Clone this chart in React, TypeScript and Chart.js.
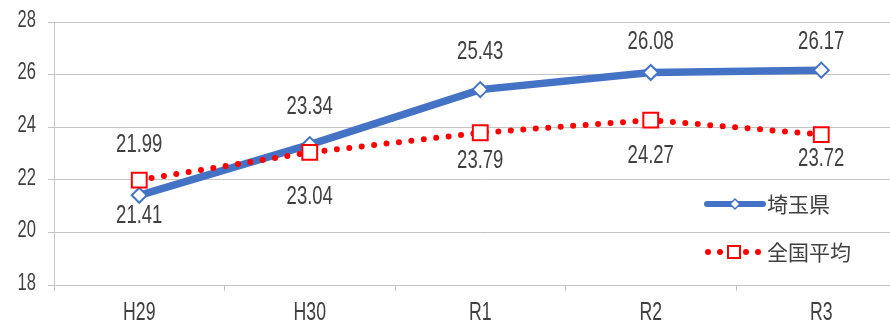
import React, { useEffect, useRef } from "react";
import { Chart, registerables } from "chart.js";

Chart.register(...registerables);

const categories = ["H29", "H30", "R1", "R2", "R3"];
const saitama = [21.41, 23.34, 25.43, 26.08, 26.17];
const national = [21.99, 23.04, 23.79, 24.27, 23.72];
const seriesNames = ["埼玉県", "全国平均"];
const yTicks = [18, 20, 22, 24, 26, 28];
// label vertical offsets (px) from the point, per point
const saitamaLabelOffset = [21, -37, -37, -30, -28];
const nationalLabelOffset = [-35, 45, 28, 36, 25];

const NUM_FONT = "'Liberation Sans', Arial, sans-serif";
const CJK_FONT = "'Noto Sans CJK JP', 'Noto Sans', sans-serif";
const TEXT = "#404040";
const BLUE = "#4472C4";
const RED = "#FF0000";
const GRID = "#C4C4C4";

function narrowText(ctx: any, text: string, x: number, y: number, size: number, sx: number, align: string) {
  ctx.save();
  ctx.font = `${size}px ${NUM_FONT}`;
  ctx.textAlign = align;
  ctx.textBaseline = "middle";
  ctx.translate(x, y);
  ctx.scale(sx, 1);
  ctx.fillText(text, 0, 0);
  ctx.restore();
}

const textPlugin = {
  id: "textPlugin",
  afterDatasetsDraw(chart: any) {
    const ctx = chart.ctx;
    ctx.save();
    ctx.fillStyle = TEXT;
    // data labels
    const offsets = [saitamaLabelOffset, nationalLabelOffset];
    chart.data.datasets.forEach((ds: any, di: number) => {
      const meta = chart.getDatasetMeta(di);
      meta.data.forEach((pt: any, i: number) => {
        narrowText(ctx, ds.data[i].toFixed(2), pt.x, pt.y + offsets[di][i], 25, 0.74, "center");
      });
    });
    // y tick labels
    const ys = chart.scales.y;
    yTicks.forEach((v) => {
      narrowText(ctx, String(v), 36, ys.getPixelForValue(v) - 1.5, 23, 0.72, "right");
    });
    // x tick labels
    const xs = chart.scales.x;
    categories.forEach((c, i) => {
      narrowText(ctx, c, xs.getPixelForTick(i), 313, 26, 0.68, "center");
    });
    ctx.restore();
  },
};

const legendPlugin = {
  id: "customLegend",
  afterDraw(chart: any) {
    const ctx = chart.ctx;
    ctx.save();
    // entry 1
    let y = 204;
    ctx.strokeStyle = BLUE;
    ctx.lineWidth = 6;
    ctx.lineCap = "round";
    ctx.beginPath();
    ctx.moveTo(707, y);
    ctx.lineTo(763, y);
    ctx.stroke();
    ctx.beginPath();
    const r = 5;
    ctx.moveTo(735, y - r);
    ctx.lineTo(735 + r, y);
    ctx.lineTo(735, y + r);
    ctx.lineTo(735 - r, y);
    ctx.closePath();
    ctx.fillStyle = "#FFFFFF";
    ctx.fill();
    ctx.lineWidth = 1.5;
    ctx.stroke();
    // entry 2
    y = 252;
    ctx.fillStyle = RED;
    [708, 720, 746, 758].forEach((x) => {
      ctx.beginPath();
      ctx.arc(x, y, 3, 0, Math.PI * 2);
      ctx.fill();
    });
    ctx.fillStyle = "#FFFFFF";
    ctx.fillRect(728, y - 6, 12, 12);
    ctx.strokeStyle = RED;
    ctx.lineWidth = 2;
    ctx.strokeRect(728, y - 6, 12, 12);
    // text
    ctx.fillStyle = TEXT;
    ctx.font = `21px ${CJK_FONT}`;
    ctx.textAlign = "left";
    ctx.textBaseline = "middle";
    ctx.fillText(seriesNames[0], 767, 204);
    ctx.fillText(seriesNames[1], 767, 252);
    ctx.restore();
  },
};

export default function App() {
  const ref = useRef<HTMLCanvasElement | null>(null);
  useEffect(() => {
    if (!ref.current) return;
    const chart = new Chart(ref.current, {
      type: "line",
      data: {
        labels: categories,
        datasets: [
          {
            label: seriesNames[0],
            data: saitama,
            borderColor: BLUE,
            borderWidth: 7.5,
            pointStyle: "rectRot",
            pointRadius: 7.5,
            pointBorderWidth: 2,
            pointBorderColor: BLUE,
            pointBackgroundColor: "#FFFFFF",
            tension: 0,
            order: 1,
          },
          {
            label: seriesNames[1],
            data: national,
            borderColor: RED,
            borderWidth: 6,
            borderDash: [0, 12.5],
            borderCapStyle: "round",
            pointStyle: "rect",
            pointRadius: 10.5,
            pointBorderWidth: 2,
            pointBorderColor: RED,
            pointBackgroundColor: "#FFFFFF",
            tension: 0,
            order: 0,
          },
        ],
      },
      options: {
        animation: false,
        responsive: false,
        devicePixelRatio: 1,
        layout: { padding: { top: 22, right: 4, left: 0, bottom: 0 } },
        plugins: { legend: { display: false }, tooltip: { enabled: false } },
        scales: {
          x: {
            offset: true,
            grid: {
              offset: true,
              display: true,
              drawOnChartArea: false,
              drawTicks: true,
              tickLength: 6,
              color: GRID,
            },
            border: { color: GRID, width: 1 },
            ticks: { display: false },
            afterFit(scale: any) {
              scale.height = 40;
            },
          },
          y: {
            min: 18,
            max: 28,
            grid: { color: GRID, tickLength: 6, tickColor: GRID },
            border: { color: GRID, width: 1 },
            ticks: { stepSize: 2, display: false },
            afterFit(scale: any) {
              scale.width = 54;
            },
          },
        },
      },
      plugins: [textPlugin, legendPlugin],
    });
    return () => chart.destroy();
  }, []);
  return (
    <div style={{ position: "absolute", left: 0, top: 0, width: 890, height: 325, overflow: "hidden", background: "#fff" }}>
      <canvas ref={ref} width={919} height={325} style={{ display: "block" }} />
    </div>
  );
}
